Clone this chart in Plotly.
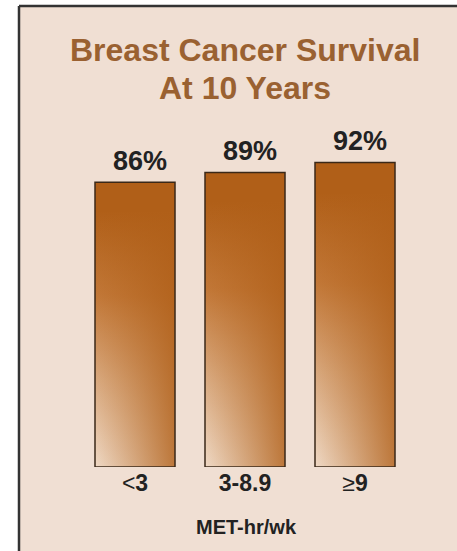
import plotly.graph_objects as go

categories = ["&lt;<b>3</b>", "<b>3-8.9</b>", "≥<b>9</b>"]
survival = [86, 89, 92]
value_labels = ["86%", "89%", "92%"]
title_lines = ["Breast Cancer Survival", "At 10 Years"]
x_title = "MET-hr/wk"

W, H = 470, 551
ML, MT, MB = 80, 136, 84
MR = W - ML - 330
BG = "#f0dfd3"
DARK = "#b05f18"
TITLE_COLOR = "#9a6131"
REG = "Liberation Sans, Arial, sans-serif"
half = 0.3636

fig = go.Figure()
xs = list(range(len(survival)))
fig.add_trace(go.Bar(x=xs, y=survival, width=2 * half, marker=dict(color=DARK, line=dict(width=0)),
                     hoverinfo="skip", showlegend=False))
for i, v in zip(xs, survival):
    rx = [i - half, i + half, i + half, i - half, i - half]
    ry = [0, 0, v, v, 0]
    fig.add_trace(go.Scatter(x=rx, y=ry, mode="lines", fill="toself",
                             fillgradient=dict(type="vertical",
                                               colorscale=[[0, "#efd9c5"], [0.3, "#d9aa80"],
                                                           [0.6, "#c27838"], [0.9, DARK], [1, DARK]]),
                             line=dict(width=0), hoverinfo="skip", showlegend=False))
    fig.add_trace(go.Scatter(x=rx, y=ry, mode="lines", fill="toself",
                             fillgradient=dict(type="horizontal",
                                               colorscale=[[0, "rgba(176,95,24,0)"], [1, "rgba(176,95,24,0.8)"]]),
                             line=dict(width=1.5, color="#3a2818"), hoverinfo="skip", showlegend=False))

pw = W - ML - MR
ph = H - MT - MB
def px2x(p):
    return (p - ML) / pw
def py2y(p):
    return (H - MB - p) / ph

fig.add_shape(type="rect", xref="paper", yref="paper",
              x0=px2x(19), x1=px2x(W + 20), y0=py2y(H + 20), y1=py2y(6),
              fillcolor=BG, line=dict(width=0), layer="below")
fig.add_shape(type="line", xref="paper", yref="paper",
              x0=px2x(19), x1=px2x(W + 20), y0=py2y(6), y1=py2y(6),
              line=dict(color="#333333", width=2.5), layer="below")
fig.add_shape(type="line", xref="paper", yref="paper",
              x0=px2x(19), x1=px2x(19), y0=py2y(6), y1=py2y(H + 20),
              line=dict(color="#333333", width=2.5), layer="below")

annotations = []
for i, (v, t) in enumerate(zip(survival, value_labels)):
    annotations.append(dict(x=i, y=v, text=f"<b>{t}</b>", showarrow=False, yanchor="bottom",
                            xshift=5, yshift=4, font=dict(family=REG, size=27, color="#222222")))
annotations.append(dict(xref="paper", yref="paper", x=0.5, y=py2y(50), text=f"<b>{title_lines[0]}</b>",
                        showarrow=False, yanchor="middle", font=dict(family=REG, size=32, color=TITLE_COLOR)))
annotations.append(dict(xref="paper", yref="paper", x=0.5, y=py2y(88), text=f"<b>{title_lines[1]}</b>",
                        showarrow=False, yanchor="middle", font=dict(family=REG, size=32, color=TITLE_COLOR)))
annotations.append(dict(xref="paper", yref="paper", x=px2x(246), y=py2y(527), text=f"<b>{x_title}</b>",
                        showarrow=False, yanchor="middle", font=dict(family=REG, size=20, color="#222222")))

fig.update_layout(
    width=W, height=H,
    margin=dict(l=ML, r=MR, t=MT, b=MB),
    paper_bgcolor="white", plot_bgcolor="rgba(0,0,0,0)",
    showlegend=False,
    annotations=annotations,
    xaxis=dict(range=[-0.5, 2.5], tickvals=xs, ticktext=categories, showgrid=False, zeroline=False,
               showline=False, ticks="", tickfont=dict(family=REG, size=23, color="#222222"), fixedrange=True),
    yaxis=dict(range=[0, 100], visible=False, showgrid=False, zeroline=False, fixedrange=True),
)
fig.write_html("out.html", config={"displayModeBar": False},
               post_script=("document.documentElement.style.overflow='hidden';"
                            "document.documentElement.style.background='" + BG + "';"
                            "document.body.style.background='" + BG + "';"
                            "document.body.style.margin='0';document.body.style.overflow='hidden';"))
